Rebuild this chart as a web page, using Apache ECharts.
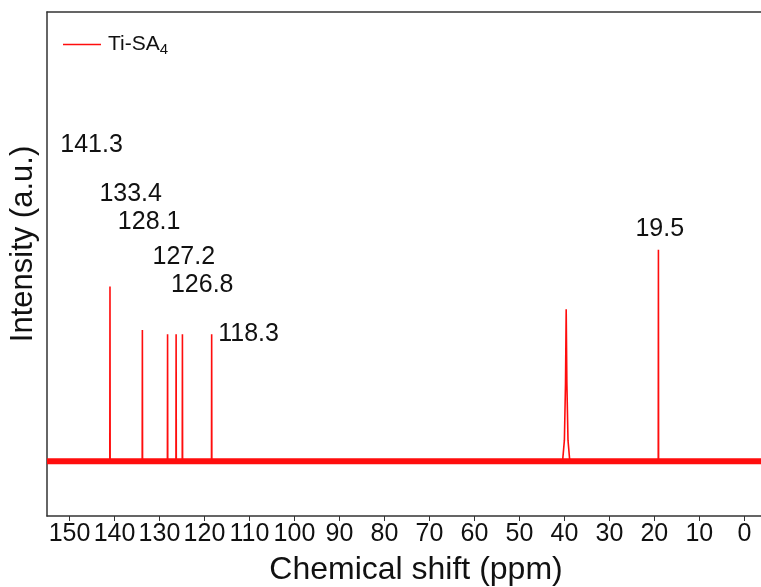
<!DOCTYPE html>
<html>
<head>
<meta charset="utf-8">
<script src="https://cdn.jsdelivr.net/npm/echarts@6/dist/echarts.min.js"></script>
<style>
  html, body { margin: 0; padding: 0; background: #fff; }
  #chart { width: 761px; height: 587px; }
</style>
</head>
<body>
<div id="chart"></div>
<script>
// 13C NMR, Ti-SA4
var peakPpm    = [141.0, 133.8, 128.2, 126.3, 124.9, 118.4, 19.1];   // sharp lines
var peakHeight = [1.00, 0.75, 0.726, 0.726, 0.726, 0.726, 1.21];
// solvent peak near 40 ppm, a bit broader
var solventPpm    = [40.4, 40.0, 39.75, 39.6, 39.45, 39.2, 38.8];
var solventHeight = [0, 0.12, 0.45, 0.87, 0.45, 0.12, 0];
// peak labels and where they sit (ppm, intensity)
var labelText = ['141.3', '133.4', '128.1', '127.2', '126.8', '118.3', '19.5'];
var labelPpm  = [145.1, 136.4, 132.3, 124.6, 120.5, 110.2, 18.8];
var labelY    = [1.81, 1.53, 1.37, 1.17, 1.01, 0.73, 1.33];
var tickValues = [150, 140, 130, 120, 110, 100, 90, 80, 70, 60, 50, 40, 30, 20, 10, 0];

var xMin = -3.7, xMax = 155;
var red = '#ff0d0d';
var font = 'Liberation Sans, Arial, sans-serif';

// spectrum: baseline with narrow lines at each peak
var spectrum = [[xMax, 0]];
var lines = [];
for (var i = 0; i < peakPpm.length; i++) lines.push({ p: peakPpm[i], h: peakHeight[i], solvent: false });
lines.push({ p: 40, solvent: true });
lines.sort(function (a, b) { return b.p - a.p; });
for (var k = 0; k < lines.length; k++) {
    var ln = lines[k];
    if (ln.solvent) {
        for (var j = 0; j < solventPpm.length; j++) spectrum.push([solventPpm[j], solventHeight[j]]);
    } else {
        spectrum.push([ln.p + 0.04, 0]);
        spectrum.push([ln.p, ln.h]);
        spectrum.push([ln.p - 0.04, 0]);
    }
}
spectrum.push([xMin, 0]);

var labelData = [];
for (var m = 0; m < labelText.length; m++) {
    labelData.push({ name: labelText[m], value: [labelPpm[m], labelY[m]] });
}

var mychart = echarts.init(document.getElementById('chart'));
var option = {
    animation: false,
    textStyle: { fontFamily: font },
    grid: { left: 47, right: 0, top: 12, bottom: 71, outerBoundsMode: 'none', containLabel: false },
    legend: {
        data: ['Ti-SA4'],
        left: 58, top: 29,
        icon: 'rect',
        itemWidth: 38, itemHeight: 1.6,
        formatter: function () { return '{a|Ti-SA}{b|4}'; },
        textStyle: {
            padding: [0, 0, 0, 2],
            rich: {
                a: { fontSize: 21, color: '#111', fontFamily: font },
                b: { fontSize: 15, color: '#111', fontFamily: font, padding: [10, 0, 0, 0] }
            }
        }
    },
    xAxis: [{
        type: 'value',
        inverse: true,
        min: xMin, max: xMax,
        name: 'Chemical shift (ppm)',
        nameLocation: 'middle',
        nameGap: 38,
        nameTextStyle: { fontSize: 32, color: '#111', fontFamily: font, padding: [0, 0, 0, 24] },
        axisLine: { onZero: false, lineStyle: { color: '#333', width: 1.5 } },
        axisTick: { show: true, customValues: tickValues, length: 5, lineStyle: { color: '#333' } },
        axisLabel: { customValues: tickValues, fontSize: 25, color: '#111', margin: 6, fontFamily: font },
        splitLine: { show: false }
    }, {
        type: 'value',
        inverse: true,
        position: 'top',
        min: xMin, max: xMax,
        axisLine: { show: true, onZero: false, lineStyle: { color: '#333', width: 1.5 } },
        axisTick: { show: false },
        axisLabel: { show: false },
        splitLine: { show: false }
    }],
    yAxis: {
        type: 'value',
        min: -0.314, max: 2.571,
        name: 'Intensity (a.u.)',
        nameLocation: 'middle',
        nameGap: 8,
        nameTextStyle: { fontSize: 31, color: '#111', fontFamily: font, padding: [0, 0, 0, 40] },
        axisLine: { show: true, onZero: false, lineStyle: { color: '#333', width: 1.5 } },
        axisTick: { show: false },
        axisLabel: { show: false },
        splitLine: { show: false }
    },
    series: [
        {
            name: 'noise',
            type: 'line',
            data: [[xMax, 0], [xMin, 0]],
            symbol: 'none',
            lineStyle: { color: red, width: 6 },
            silent: true,
            z: 2
        },
        {
            name: 'Ti-SA4',
            type: 'line',
            data: spectrum,
            symbol: 'none',
            color: red,
            lineStyle: { color: red, width: 1.6 },
            z: 3
        },
        {
            name: 'labels',
            type: 'scatter',
            data: labelData,
            symbolSize: 0,
            itemStyle: { opacity: 1 },
            label: {
                show: true,
                position: 'inside',
                formatter: '{b}',
                fontSize: 25,
                color: '#111',
                textBorderWidth: 0,
                fontFamily: font
            },
            silent: true,
            z: 4
        }
    ]
};
mychart.setOption(option);
</script>
</body>
</html>
